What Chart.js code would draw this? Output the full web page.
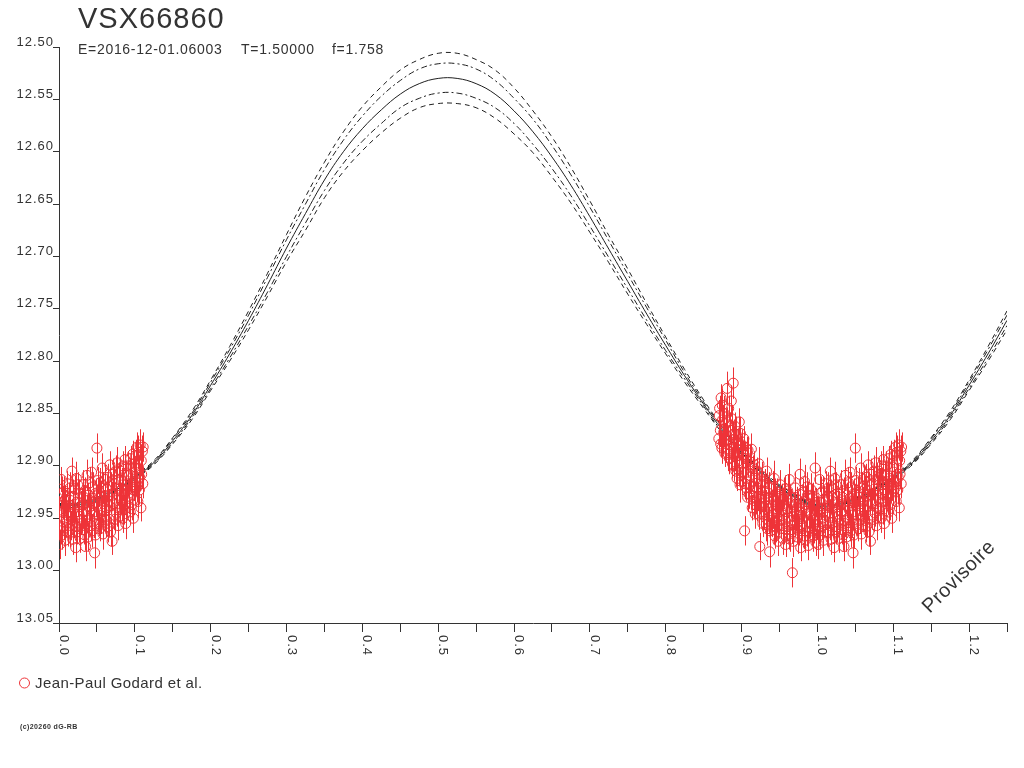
<!DOCTYPE html>
<html>
<head>
<meta charset="utf-8">
<title>VSX66860</title>
<script src="https://cdn.jsdelivr.net/npm/chart.js@4.4.1/dist/chart.umd.min.js"></script>
<style>
  html, body { margin: 0; padding: 0; background: #fff; }
  canvas { display: block; }
</style>
</head>
<body>
<canvas id="chart" width="1024" height="768"></canvas>
<script>
// model curve (phase / magnitude) with its two envelopes on each side
let modelPhase = [
  0.000, 0.025, 0.050, 0.075, 0.100, 0.125, 0.150, 0.175, 0.200, 0.225,
  0.250, 0.275, 0.300, 0.325, 0.350, 0.375, 0.400, 0.425, 0.450, 0.475,
  0.500, 0.525, 0.550, 0.575, 0.600, 0.625, 0.650, 0.675, 0.700, 0.725,
  0.750, 0.775, 0.800, 0.825, 0.850, 0.875, 0.900, 0.925, 0.950, 0.975,
  1.000, 1.025, 1.050, 1.075, 1.100, 1.125, 1.150, 1.175, 1.200, 1.225, 1.250
];
let modelMag = [
  12.938, 12.937, 12.932, 12.923, 12.911, 12.897, 12.876, 12.852, 12.823, 12.793,
  12.761, 12.727, 12.692, 12.659, 12.627, 12.600, 12.578, 12.560, 12.545, 12.535,
  12.530, 12.530, 12.535, 12.545, 12.561, 12.581, 12.605, 12.632, 12.662, 12.693,
  12.724, 12.755, 12.785, 12.814, 12.841, 12.866, 12.887, 12.905, 12.920, 12.931,
  12.938, 12.937, 12.932, 12.923, 12.911, 12.897, 12.876, 12.852, 12.823, 12.793, 12.761
];
let modelUpperOuter = [
  12.936, 12.935, 12.930, 12.921, 12.909, 12.895, 12.873, 12.848, 12.818, 12.786,
  12.752, 12.716, 12.679, 12.643, 12.610, 12.581, 12.557, 12.538, 12.522, 12.512,
  12.506, 12.506, 12.512, 12.522, 12.539, 12.561, 12.586, 12.615, 12.647, 12.680,
  12.712, 12.745, 12.777, 12.808, 12.837, 12.863, 12.885, 12.903, 12.918, 12.929,
  12.936, 12.935, 12.930, 12.921, 12.909, 12.895, 12.873, 12.848, 12.818, 12.786, 12.752
];
let modelUpperInner = [
  12.937, 12.936, 12.931, 12.922, 12.910, 12.896, 12.874, 12.850, 12.820, 12.789,
  12.756, 12.720, 12.684, 12.650, 12.617, 12.589, 12.566, 12.547, 12.532, 12.521,
  12.516, 12.516, 12.521, 12.532, 12.549, 12.569, 12.594, 12.622, 12.653, 12.685,
  12.717, 12.749, 12.780, 12.811, 12.839, 12.864, 12.886, 12.904, 12.919, 12.930,
  12.937, 12.936, 12.931, 12.922, 12.910, 12.896, 12.874, 12.850, 12.820, 12.789, 12.756
];
let modelLowerInner = [
  12.939, 12.938, 12.933, 12.924, 12.912, 12.898, 12.878, 12.854, 12.826, 12.797,
  12.766, 12.734, 12.700, 12.668, 12.637, 12.611, 12.590, 12.573, 12.558, 12.549,
  12.544, 12.544, 12.549, 12.558, 12.573, 12.593, 12.616, 12.642, 12.671, 12.701,
  12.731, 12.761, 12.790, 12.817, 12.843, 12.868, 12.888, 12.906, 12.921, 12.932,
  12.939, 12.938, 12.933, 12.924, 12.912, 12.898, 12.878, 12.854, 12.826, 12.797, 12.766
];
let modelLowerOuter = [
  12.940, 12.939, 12.934, 12.925, 12.913, 12.899, 12.879, 12.856, 12.828, 12.800,
  12.770, 12.738, 12.705, 12.675, 12.644, 12.619, 12.599, 12.582, 12.568, 12.558,
  12.554, 12.554, 12.558, 12.568, 12.583, 12.601, 12.624, 12.649, 12.677, 12.706,
  12.736, 12.765, 12.793, 12.820, 12.845, 12.869, 12.889, 12.907, 12.922, 12.933,
  12.940, 12.939, 12.934, 12.925, 12.913, 12.899, 12.879, 12.856, 12.828, 12.800, 12.770
];

// observations: phase, magnitude, error
let obsPhase = [
  0.870, 0.871, 0.872, 0.873, 0.874, 0.875, 0.876, 0.877, 0.878, 0.879,
  0.880, 0.881, 0.882, 0.883, 0.884, 0.885, 0.886, 0.887, 0.888, 0.889, 0.889,
  0.890, 0.891, 0.892, 0.893, 0.894, 0.895, 0.896, 0.897, 0.898, 0.899,
  0.900, 0.901, 0.902, 0.903, 0.904, 0.905, 0.906, 0.907, 0.908, 0.909,
  0.910, 0.911, 0.912, 0.913, 0.914, 0.915, 0.916, 0.917, 0.918, 0.919,
  0.920, 0.921, 0.922, 0.923, 0.924, 0.925, 0.926, 0.927, 0.928, 0.929,
  0.930, 0.931, 0.932, 0.933, 0.934, 0.935, 0.936, 0.937, 0.938, 0.939,
  0.940, 0.941, 0.942, 0.943, 0.944, 0.945, 0.946, 0.947, 0.948, 0.949,
  0.950, 0.951, 0.952, 0.953, 0.954, 0.955, 0.956, 0.957, 0.958, 0.959,
  0.960, 0.961, 0.962, 0.963, 0.964, 0.965, 0.966, 0.967, 0.968, 0.969,
  0.970, 0.971, 0.972, 0.973, 0.974, 0.975, 0.976, 0.977, 0.978, 0.979,
  0.980, 0.981, 0.982, 0.983, 0.984, 0.985, 0.986, 0.987, 0.988, 0.989,
  0.990, 0.991, 0.992, 0.993, 0.994, 0.995, 0.996, 0.997, 0.998, 0.999,
  1.000, 1.001, 1.002, 1.003, 1.004, 1.005, 1.006, 1.007, 1.008, 1.009,
  1.010, 1.011, 1.012, 1.013, 1.014, 1.015, 1.016, 1.017, 1.018, 1.019,
  1.020, 1.021, 1.022, 1.023, 1.024, 1.025, 1.026, 1.027, 1.028, 1.029,
  1.030, 1.031, 1.032, 1.033, 1.034, 1.035, 1.036, 1.037, 1.038, 1.039,
  1.040, 1.041, 1.042, 1.043, 1.044, 1.045, 1.046, 1.047, 1.048, 1.049,
  1.050, 1.051, 1.052, 1.053, 1.054, 1.055, 1.056, 1.057, 1.058, 1.059,
  1.060, 1.061, 1.062, 1.063, 1.064, 1.065, 1.066, 1.067, 1.068, 1.069,
  1.070, 1.071, 1.072, 1.073, 1.074, 1.075, 1.076, 1.077, 1.078, 1.079,
  1.080, 1.081, 1.082, 1.083, 1.084, 1.085, 1.086, 1.087, 1.088, 1.089,
  1.090, 1.091, 1.092, 1.093, 1.094, 1.095, 1.096, 1.097, 1.098, 1.099,
  1.100, 1.101, 1.102, 1.103, 1.104, 1.105, 1.106, 1.107, 1.108, 1.109, 1.110, 1.111,
  // second night
  0.8705, 0.8725, 0.8745, 0.8765, 0.8785, 0.8805, 0.8825, 0.8845, 0.8865, 0.8885,
  0.8905, 0.8925, 0.8945, 0.8965, 0.8985, 0.9005, 0.9025, 0.9045, 0.9065, 0.9085,
  0.9105, 0.9125, 0.9145, 0.9165, 0.9185, 0.9205, 0.9225, 0.9245, 0.9265, 0.9285,
  0.9305, 0.9325, 0.9345, 0.9365, 0.9385, 0.9405, 0.9425, 0.9445, 0.9465, 0.9485,
  0.9505, 0.9525, 0.9545, 0.9565, 0.9585, 0.9605, 0.9625, 0.9645, 0.9665, 0.9685,
  0.9705, 0.9725, 0.9745, 0.9765, 0.9785, 0.9805, 0.9825, 0.9845, 0.9865, 0.9885,
  0.9905, 0.9925, 0.9945, 0.9965, 0.9985, 1.0005, 1.0025, 1.0045, 1.0065, 1.0085,
  1.0105, 1.0125, 1.0145, 1.0165, 1.0185, 1.0205, 1.0225, 1.0245, 1.0265, 1.0285,
  1.0305, 1.0325, 1.0345, 1.0365, 1.0385, 1.0405, 1.0425, 1.0445, 1.0465, 1.0485,
  1.0505, 1.0525, 1.0545, 1.0565, 1.0585, 1.0605, 1.0625, 1.0645, 1.0665, 1.0685,
  1.0705, 1.0725, 1.0745, 1.0765, 1.0785, 1.0805, 1.0825, 1.0845, 1.0865, 1.0885,
  1.0905, 1.0925, 1.0945, 1.0965, 1.0985, 1.1005, 1.1025, 1.1045, 1.1065, 1.1085, 1.1105
];
let obsMag = [
  12.874, 12.845, 12.866, 12.835, 12.883, 12.856, 12.877, 12.850, 12.888, 12.860,
  12.884, 12.826, 12.876, 12.845, 12.893, 12.866, 12.887, 12.855, 12.898, 12.870, 12.821,
  12.900, 12.862, 12.891, 12.870, 12.912, 12.879, 12.904, 12.858, 12.918, 12.885,
  12.915, 12.880, 12.906, 12.874, 12.962, 12.893, 12.921, 12.887, 12.930, 12.899,
  12.927, 12.896, 12.918, 12.884, 12.940, 12.908, 12.933, 12.899, 12.946, 12.912,
  12.938, 12.905, 12.929, 12.898, 12.977, 12.917, 12.944, 12.910, 12.955, 12.924,
  12.947, 12.915, 12.938, 12.905, 12.960, 12.926, 12.952, 12.982, 12.962, 12.931,
  12.955, 12.920, 12.946, 12.912, 12.967, 12.934, 12.958, 12.925, 12.972, 12.939,
  12.951, 12.918, 12.944, 12.930, 12.969, 12.936, 12.960, 12.922, 12.975, 12.941,
  12.958, 12.924, 12.949, 12.913, 12.970, 12.936, 12.961, 13.002, 12.972, 12.942,
  12.955, 12.921, 12.948, 12.932, 12.968, 12.938, 12.962, 12.908, 12.978, 12.944,
  12.957, 12.925, 12.950, 12.915, 12.971, 12.934, 12.963, 12.928, 12.976, 12.945,
  12.955, 12.922, 12.947, 12.931, 12.966, 12.937, 12.960, 12.902, 12.973, 12.943,
  12.957, 12.975, 12.947, 12.913, 12.966, 12.935, 12.958, 12.924, 12.971, 12.940,
  12.952, 12.917, 12.945, 12.929, 12.964, 12.933, 12.957, 12.905, 12.970, 12.941,
  12.954, 12.922, 12.978, 12.912, 12.963, 12.935, 12.958, 12.926, 12.969, 12.939,
  12.951, 12.918, 12.944, 12.930, 12.966, 12.977, 12.955, 12.909, 12.968, 12.938,
  12.950, 12.916, 12.942, 12.906, 12.962, 12.931, 12.955, 12.983, 12.966, 12.935,
  12.883, 12.914, 12.947, 12.925, 12.960, 12.930, 12.952, 12.902, 12.965, 12.936,
  12.948, 12.913, 12.940, 12.922, 12.958, 12.928, 12.951, 12.899, 12.963, 12.934,
  12.972, 12.908, 12.936, 12.917, 12.951, 12.922, 12.945, 12.897, 12.957, 12.928,
  12.941, 12.905, 12.931, 12.914, 12.950, 12.918, 12.942, 12.894, 12.955, 12.924,
  12.934, 12.900, 12.926, 12.908, 12.944, 12.912, 12.937, 12.889, 12.950, 12.918,
  12.924, 12.890, 12.916, 12.882, 12.934, 12.902, 12.923, 12.880, 12.940, 12.908, 12.886, 12.882,
  // second night
  12.852, 12.879, 12.842, 12.868, 12.871, 12.858, 12.889, 12.862, 12.838, 12.880,
  12.875, 12.905, 12.884, 12.895, 12.869, 12.898, 12.889, 12.917, 12.906, 12.885,
  12.911, 12.928, 12.902, 12.920, 12.930, 12.921, 12.946, 12.932, 12.915, 12.939,
  12.930, 12.956, 12.941, 12.921, 12.948, 12.938, 12.961, 12.928, 12.950, 12.944,
  12.933, 12.957, 12.947, 12.926, 12.953, 12.941, 12.965, 12.930, 12.952, 12.948,
  12.937, 12.960, 12.951, 12.927, 12.956, 12.940, 12.967, 12.943, 12.920, 12.953,
  12.946, 12.962, 12.929, 12.951, 12.935, 12.944, 12.962, 12.926, 12.950, 12.932,
  12.947, 12.963, 12.921, 12.945, 12.929, 12.940, 12.958, 12.918, 12.946, 12.952,
  12.937, 12.961, 12.924, 12.943, 12.928, 12.939, 12.957, 12.920, 12.944, 12.926,
  12.937, 12.955, 12.916, 12.942, 12.921, 12.934, 12.952, 12.911, 12.938, 12.918,
  12.928, 12.947, 12.905, 12.933, 12.913, 12.924, 12.940, 12.900, 12.927, 12.909,
  12.915, 12.931, 12.893, 12.920, 12.901, 12.906, 12.921, 12.887, 12.911, 12.895, 12.917
];
let obsErr = [
  0.014, 0.012, 0.016, 0.013, 0.015, 0.014, 0.012, 0.017, 0.013, 0.015,
  0.013, 0.016, 0.014, 0.012, 0.015, 0.014, 0.017, 0.013, 0.014, 0.012, 0.015,
  0.015, 0.013, 0.014, 0.016, 0.012, 0.014, 0.015, 0.013, 0.017, 0.014,
  0.013, 0.015, 0.014, 0.012, 0.014, 0.016, 0.013, 0.015, 0.014, 0.012,
  0.014, 0.016, 0.013, 0.015, 0.012, 0.014, 0.017, 0.013, 0.014, 0.015,
  0.015, 0.013, 0.014, 0.016, 0.013, 0.012, 0.015, 0.014, 0.013, 0.016,
  0.014, 0.012, 0.015, 0.013, 0.016, 0.014, 0.013, 0.015, 0.012, 0.014,
  0.013, 0.015, 0.014, 0.017, 0.012, 0.014, 0.015, 0.013, 0.014, 0.016,
  0.015, 0.014, 0.012, 0.013, 0.016, 0.014, 0.015, 0.013, 0.012, 0.014,
  0.014, 0.016, 0.013, 0.015, 0.012, 0.014, 0.013, 0.014, 0.015, 0.013,
  0.013, 0.015, 0.014, 0.012, 0.016, 0.013, 0.014, 0.015, 0.013, 0.014,
  0.015, 0.013, 0.014, 0.016, 0.012, 0.015, 0.014, 0.013, 0.014, 0.012,
  0.014, 0.015, 0.013, 0.014, 0.016, 0.012, 0.014, 0.015, 0.013, 0.014,
  0.013, 0.014, 0.015, 0.012, 0.014, 0.016, 0.013, 0.014, 0.015, 0.013,
  0.014, 0.012, 0.015, 0.013, 0.014, 0.016, 0.014, 0.013, 0.015, 0.014,
  0.015, 0.013, 0.014, 0.016, 0.012, 0.014, 0.015, 0.013, 0.014, 0.015,
  0.013, 0.014, 0.016, 0.012, 0.015, 0.014, 0.013, 0.015, 0.014, 0.012,
  0.014, 0.015, 0.013, 0.014, 0.016, 0.012, 0.014, 0.015, 0.013, 0.014,
  0.014, 0.013, 0.015, 0.014, 0.012, 0.016, 0.013, 0.014, 0.015, 0.013,
  0.015, 0.014, 0.012, 0.013, 0.015, 0.014, 0.016, 0.013, 0.014, 0.012,
  0.013, 0.015, 0.014, 0.016, 0.012, 0.014, 0.013, 0.015, 0.014, 0.013,
  0.014, 0.013, 0.015, 0.012, 0.014, 0.016, 0.014, 0.013, 0.015, 0.014,
  0.015, 0.014, 0.013, 0.016, 0.012, 0.014, 0.015, 0.013, 0.014, 0.015,
  0.014, 0.015, 0.013, 0.014, 0.016, 0.012, 0.014, 0.015, 0.013, 0.014, 0.015, 0.014,
  // second night
  0.015, 0.013, 0.016, 0.014, 0.012, 0.014, 0.016, 0.013, 0.015, 0.014,
  0.013, 0.015, 0.014, 0.012, 0.016, 0.014, 0.013, 0.015, 0.016, 0.013,
  0.015, 0.014, 0.012, 0.014, 0.016, 0.013, 0.015, 0.014, 0.013, 0.012,
  0.014, 0.016, 0.013, 0.015, 0.014, 0.012, 0.014, 0.016, 0.013, 0.015,
  0.014, 0.013, 0.015, 0.014, 0.016, 0.013, 0.015, 0.012, 0.014, 0.013,
  0.016, 0.014, 0.013, 0.015, 0.014, 0.013, 0.012, 0.015, 0.014, 0.016,
  0.014, 0.015, 0.013, 0.012, 0.014, 0.015, 0.013, 0.016, 0.014, 0.013,
  0.012, 0.014, 0.015, 0.013, 0.016, 0.014, 0.013, 0.012, 0.015, 0.014,
  0.016, 0.014, 0.013, 0.015, 0.012, 0.013, 0.015, 0.014, 0.016, 0.014,
  0.015, 0.012, 0.014, 0.013, 0.015, 0.014, 0.016, 0.013, 0.014, 0.012,
  0.013, 0.014, 0.015, 0.012, 0.016, 0.015, 0.013, 0.014, 0.016, 0.013,
  0.014, 0.015, 0.012, 0.014, 0.015, 0.013, 0.014, 0.016, 0.013, 0.015, 0.014
];

let xTickValues = [0.0, 0.1, 0.2, 0.3, 0.4, 0.5, 0.6, 0.7, 0.8, 0.9, 1.0, 1.1, 1.2];
let xTickLabels = ['0.0', '0.1', '0.2', '0.3', '0.4', '0.5', '0.6', '0.7', '0.8', '0.9', '1.0', '1.1', '1.2'];

let starName = 'VSX66860';
let ephemeris = ['E=2016-12-01.06003', 'T=1.50000', 'f=1.758'];
let observer = 'Jean-Paul Godard et al.';
let copyright = '(c)20260 dG-RB';
let stamp = 'Provisoire';

var red = '#ee3338';
var ink = '#333333';
var fontFam = '"Liberation Sans", Arial, sans-serif';

// phase diagram: points with phase >= 1 are also shown one cycle earlier
var obsPoints = [];
obsPhase.forEach(function (p, i) {
  obsPoints.push({x: p, y: obsMag[i], err: obsErr[i]});
  if (p >= 1) obsPoints.push({x: p - 1, y: obsMag[i], err: obsErr[i]});
});

function curve(values, dash) {
  return {
    type: 'scatter',
    showLine: true,
    data: modelPhase.map(function (p, i) { return {x: p, y: values[i]}; }),
    borderColor: '#1e1e1e',
    borderWidth: 1,
    borderDash: dash,
    pointRadius: 0,
    tension: 0.4,
    order: 2
  };
}

var errorBars = {
  id: 'errorBars',
  afterDatasetsDraw(chart) {
    var ctx = chart.ctx, xs = chart.scales.x, ys = chart.scales.y;
    ctx.save();
    ctx.strokeStyle = red;
    ctx.lineWidth = 1;
    ctx.beginPath();
    obsPoints.forEach(function (p) {
      var px = Math.round(xs.getPixelForValue(p.x)) + 0.5;
      ctx.moveTo(px, ys.getPixelForValue(p.y - p.err));
      ctx.lineTo(px, ys.getPixelForValue(p.y + p.err));
    });
    ctx.stroke();
    ctx.restore();
  }
};

var decor = {
  id: 'decor',
  beforeDraw(chart) {
    chart.ctx.letterSpacing = '1px';
  },
  afterDraw(chart) {
    var ctx = chart.ctx, xs = chart.scales.x, area = chart.chartArea;
    ctx.save();
    ctx.fillStyle = ink;
    ctx.textAlign = 'left';
    ctx.textBaseline = 'alphabetic';

    // x labels, turned a quarter clockwise
    ctx.font = '13px ' + fontFam;
    ctx.letterSpacing = '1px';
    xTickValues.forEach(function (v, i) {
      ctx.save();
      ctx.translate(xs.getPixelForValue(v) + 1, area.bottom + 12);
      ctx.rotate(Math.PI / 2);
      ctx.fillText(xTickLabels[i], 0, 0);
      ctx.restore();
    });

    ctx.font = '29px ' + fontFam;
    ctx.letterSpacing = '1px';
    ctx.fillText(starName, 78, 28);

    ctx.font = '14px ' + fontFam;
    ctx.letterSpacing = '0.7px';
    ctx.fillText(ephemeris[0], 78, 54);
    ctx.fillText(ephemeris[1], 241, 54);
    ctx.fillText(ephemeris[2], 332, 54);

    ctx.strokeStyle = red;
    ctx.lineWidth = 1;
    ctx.beginPath();
    ctx.arc(24.5, 683, 5, 0, Math.PI * 2);
    ctx.stroke();
    ctx.font = '15px ' + fontFam;
    ctx.letterSpacing = '0.4px';
    ctx.fillText(observer, 35, 688);

    ctx.font = 'bold 7px ' + fontFam;
    ctx.letterSpacing = '0.4px';
    ctx.fillText(copyright, 20, 729);

    ctx.save();
    ctx.translate(959, 577);
    ctx.rotate(-Math.PI / 4);
    ctx.font = '20px ' + fontFam;
    ctx.letterSpacing = '0.5px';
    ctx.textAlign = 'center';
    ctx.textBaseline = 'middle';
    ctx.fillText(stamp, 0, 0);
    ctx.restore();

    ctx.restore();
  }
};

new Chart(document.getElementById('chart'), {
  type: 'scatter',
  data: {
    datasets: [
      {
        data: obsPoints,
        pointStyle: 'circle',
        pointRadius: 5,
        pointBorderWidth: 1,
        borderColor: red,
        backgroundColor: 'rgba(0,0,0,0)',
        order: 1
      },
      curve(modelUpperOuter, [5, 4]),
      curve(modelUpperInner, [6, 3, 2, 3]),
      curve(modelMag, []),
      curve(modelLowerInner, [6, 3, 2, 3]),
      curve(modelLowerOuter, [5, 4])
    ]
  },
  options: {
    responsive: false,
    animation: false,
    devicePixelRatio: 1,
    layout: {padding: {left: 0, top: 47, right: 17, bottom: 0}},
    plugins: {
      legend: {display: false},
      tooltip: {enabled: false},
      title: {display: false}
    },
    scales: {
      x: {
        type: 'linear',
        min: 0,
        max: 1.25,
        ticks: {display: false, stepSize: 0.05},
        grid: {drawOnChartArea: false, drawTicks: true, tickLength: 9, color: ink},
        border: {display: true, color: ink},
        afterFit: function (scale) { scale.height = 145; }
      },
      y: {
        type: 'linear',
        reverse: true,
        min: 12.5,
        max: 13.05,
        ticks: {
          stepSize: 0.05,
          color: ink,
          padding: -1,
          labelOffset: -5,
          font: {family: fontFam, size: 13},
          callback: function (v) { return v.toFixed(2); }
        },
        grid: {drawOnChartArea: false, drawTicks: true, tickLength: 6, color: ink},
        border: {display: true, color: ink},
        afterFit: function (scale) { scale.width = 59; }
      }
    }
  },
  plugins: [errorBars, decor]
});
</script>
</body>
</html>
